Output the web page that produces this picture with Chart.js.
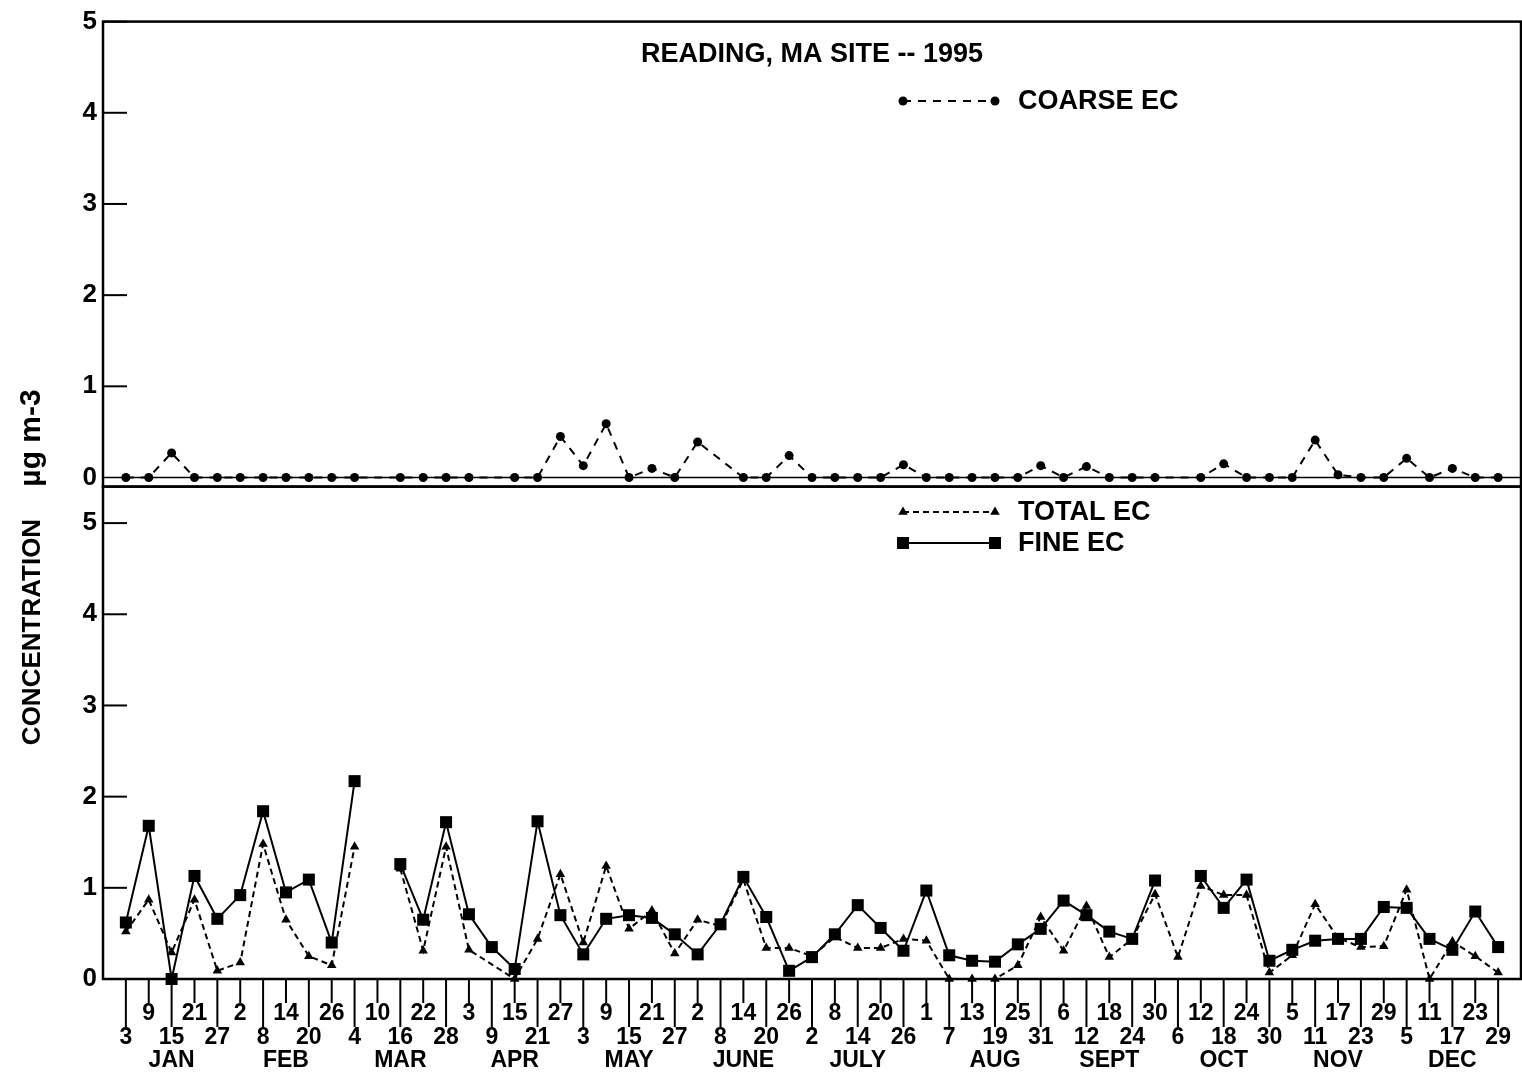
<!DOCTYPE html>
<html>
<head>
<meta charset="utf-8">
<script src="https://cdn.jsdelivr.net/npm/chart.js@4.4.0/dist/chart.umd.min.js"></script>
<style>
  html, body { margin: 0; padding: 0; background: #fff; overflow: hidden; }
  #quadro { position: relative; width: 1522px; height: 1081px; }
  #grafico { display: block; }
</style>
</head>
<body>
<div id="quadro"><canvas id="grafico" width="1522" height="1081"></canvas></div>
<script>
// sampling days, one every 6 days, Jan 3 .. Dec 29 1995
const dias = ["3","9","15","21","27","2","8","14","20","26","4","10","16","22","28",
  "3","9","15","21","27","3","9","15","21","27","2","8","14","20","26",
  "2","8","14","20","26","1","7","13","19","25","31","6","12","18","24","30",
  "6","12","18","24","30","5","11","17","23","29","5","11","17","23","29"];
const meses = ["JAN","FEB","MAR","APR","MAY","JUNE","JULY","AUG","SEPT","OCT","NOV","DEC"];
const posMeses = [2, 7, 12, 17, 22, 27, 32, 38, 43, 48, 53, 58];

const fineEC = [0.62,1.68,0,1.13,0.66,0.92,1.84,0.95,1.09,0.40,
  2.17,null,1.26,0.65,1.72,0.71,0.35,0.11,1.73,0.70,
  0.27,0.66,0.70,0.67,0.49,0.27,0.60,1.12,0.68,0.09,
  0.24,0.49,0.81,0.56,0.31,0.97,0.26,0.20,0.19,0.38,
  0.55,0.86,0.70,0.52,0.44,1.08,null,1.13,0.78,1.09,
  0.20,0.32,0.42,0.44,0.44,0.79,0.78,0.44,0.32,0.74,0.35];
const totalEC = [0.52,0.87,0.29,0.87,0.09,0.18,1.48,0.65,0.25,0.15,
  1.45,null,1.21,0.31,1.45,0.32,null,0,0.44,1.15,
  0.40,1.24,0.55,0.75,0.28,0.65,0.58,1.09,0.34,0.34,
  0.25,0.46,0.34,0.34,0.44,0.42,0,0,0,0.15,
  0.68,0.31,0.80,0.24,0.44,0.93,0.24,1.02,0.92,0.92,
  0.07,0.26,0.82,0.45,0.35,0.36,0.98,0,0.41,0.25,0.07];
const coarseEC = [0,0,0.27,0,0,0,0,0,0,0,
  0,null,0,0,0,0,null,0,0,0.45,
  0.13,0.59,0,0.10,0,0.39,null,0,0,0.24,
  0,0,0,0,0.14,0,0,0,0,0,
  0.13,0,0.12,0,0,0,null,0,0.15,0,
  0,0,0.41,0.03,0,0,0.21,0,0.10,0,0];

const FONTE = '"Liberation Sans", Arial, Helvetica, sans-serif';

function pontos(serie) {
  return serie.map((v, i) => ({ x: i, y: v }));
}

// total line only bridges a missing day when the fine sample exists on it
function pulaLacuna(c) {
  for (let i = c.p1DataIndex - 1; i >= 0 && totalEC[i] === null; i--) {
    if (fineEC[i] === null) return true;
  }
  return false;
}

function marcador(ctx, estilo, x, y) {
  ctx.beginPath();
  if (estilo === 'circle') {
    ctx.arc(x, y, 4.5, 0, Math.PI * 2);
  } else if (estilo === 'triangle') {
    const r = 5.5;
    ctx.moveTo(x, y - r);
    ctx.lineTo(x + r * 0.866, y + r / 2);
    ctx.lineTo(x - r * 0.866, y + r / 2);
    ctx.closePath();
  } else {
    ctx.rect(x - 6, y - 6, 12, 12);
  }
  ctx.fill();
}

function amostraLegenda(ctx, x1, x2, y, dash, estilo) {
  ctx.setLineDash(dash);
  ctx.lineWidth = 2;
  ctx.beginPath(); ctx.moveTo(x1, y); ctx.lineTo(x2, y); ctx.stroke();
  ctx.setLineDash([]);
  marcador(ctx, estilo, x1, y);
  marcador(ctx, estilo, x2, y);
}

const molduras = {
  id: 'molduras',
  beforeDatasetsDraw(chart) {
    const { ctx, chartArea } = chart;
    const esq = chartArea.left, dir = chartArea.right;
    ctx.save();
    ctx.strokeStyle = '#000';
    [chart.scales.yAcima, chart.scales.yAbaixo].forEach(s => {
      ctx.lineWidth = 2.5;
      ctx.strokeRect(esq, s.top, dir - esq, s.bottom - s.top);
      ctx.lineWidth = 2;
      s.ticks.forEach(t => {
        if (t.value <= 0) return;
        const y = s.getPixelForValue(t.value);
        ctx.beginPath(); ctx.moveTo(esq, y); ctx.lineTo(esq + 24, y); ctx.stroke();
      });
    });
    const y0 = chart.scales.yAcima.getPixelForValue(0);
    ctx.lineWidth = 1.5;
    ctx.beginPath(); ctx.moveTo(esq, y0); ctx.lineTo(dir, y0); ctx.stroke();

    const x = chart.scales.x, base = chartArea.bottom;
    ctx.lineWidth = 2;
    dias.forEach((d, i) => {
      const px = x.getPixelForValue(i);
      ctx.beginPath(); ctx.moveTo(px, base); ctx.lineTo(px, base + (i % 2 ? 24 : 48)); ctx.stroke();
    });
    ctx.restore();
  },
  afterDraw(chart) {
    const { ctx, chartArea } = chart;
    const x = chart.scales.x, base = chartArea.bottom;
    ctx.save();
    ctx.fillStyle = '#000';
    ctx.strokeStyle = '#000';
    ctx.textAlign = 'center';
    ctx.textBaseline = 'middle';
    ctx.font = 'bold 23px ' + FONTE;
    dias.forEach((d, i) => {
      ctx.fillText(d, x.getPixelForValue(i), base + (i % 2 ? 35 : 59));
    });
    meses.forEach((m, j) => {
      ctx.fillText(m, x.getPixelForValue(posMeses[j]), base + 82);
    });

    ctx.font = 'bold 27px ' + FONTE;
    ctx.fillText('READING, MA SITE -- 1995', 812, 55);

    ctx.textAlign = 'left';
    ctx.font = 'bold 27px ' + FONTE;
    amostraLegenda(ctx, 903, 995, 101, [8, 7], 'circle');
    ctx.fillText('COARSE EC', 1018, 102);
    amostraLegenda(ctx, 903, 995, 512, [6, 4], 'triangle');
    ctx.fillText('TOTAL EC', 1018, 513);
    amostraLegenda(ctx, 903, 995, 543, [], 'rect');
    ctx.fillText('FINE EC', 1018, 544);

    ctx.textAlign = 'center';
    ctx.save();
    ctx.translate(33, 632);
    ctx.rotate(-Math.PI / 2);
    ctx.font = 'bold 26px ' + FONTE;
    ctx.fillText('CONCENTRATION', 0, 0);
    ctx.restore();
    ctx.save();
    ctx.translate(32, 438);
    ctx.rotate(-Math.PI / 2);
    ctx.font = 'bold 30px ' + FONTE;
    ctx.fillText('\u00b5g m-3', 0, 0);
    ctx.restore();
    ctx.restore();
  }
};

const eixoY = (min, max, peso) => ({
  type: 'linear',
  position: 'left',
  stack: 'paineis',
  stackWeight: peso,
  min: min,
  max: max,
  grid: { display: false, drawTicks: false },
  border: { display: false },
  ticks: {
    stepSize: 1,
    includeBounds: false,
    padding: 6,
    color: '#000',
    font: { family: FONTE, size: 26, weight: 'bold' }
  },
  afterFit: s => { s.width = 103; }
});

new Chart(document.getElementById('grafico'), {
  type: 'line',
  data: {
    datasets: [
      {
        label: 'FINE EC',
        data: pontos(fineEC),
        yAxisID: 'yAbaixo',
        borderColor: '#000',
        backgroundColor: '#000',
        borderWidth: 2,
        pointStyle: 'rect',
        pointRadius: 8.5,
        pointBorderWidth: 0,
        spanGaps: false,
        clip: false
      },
      {
        label: 'TOTAL EC',
        data: pontos(totalEC),
        yAxisID: 'yAbaixo',
        borderColor: '#000',
        backgroundColor: '#000',
        borderWidth: 2,
        borderDash: [6, 4],
        pointStyle: 'triangle',
        pointRadius: 5.5,
        pointBorderWidth: 0,
        spanGaps: true,
        segment: { borderColor: c => pulaLacuna(c) ? 'rgba(0,0,0,0)' : '#000' },
        clip: false
      },
      {
        label: 'COARSE EC',
        data: pontos(coarseEC),
        yAxisID: 'yAcima',
        borderColor: '#000',
        backgroundColor: '#000',
        borderWidth: 2,
        borderDash: [8, 7],
        pointStyle: 'circle',
        pointRadius: 4.5,
        pointBorderWidth: 0,
        spanGaps: true,
        clip: false
      }
    ]
  },
  options: {
    responsive: false,
    animation: false,
    devicePixelRatio: 1,
    layout: { autoPadding: false, padding: { top: 18, right: 1, bottom: 102, left: 0 } },
    plugins: { legend: { display: false }, tooltip: { enabled: false } },
    elements: { line: { tension: 0 } },
    scales: {
      x: { type: 'linear', min: -1, max: 61, display: false, ticks: { display: false } },
      yAbaixo: eixoY(0, 5.4, 5.4),
      yAcima: eixoY(-0.1, 5, 5.1)
    }
  },
  plugins: [molduras]
});
</script>
</body>
</html>
